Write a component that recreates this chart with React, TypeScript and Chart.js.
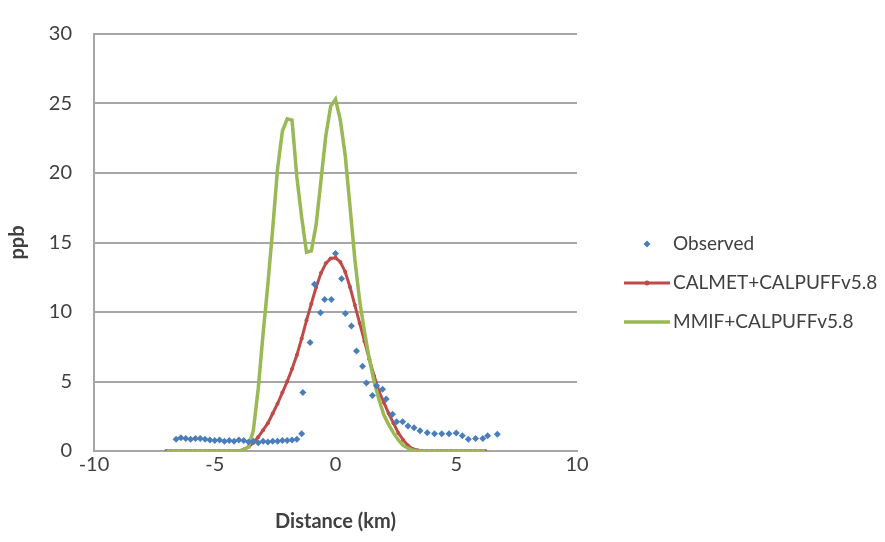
import React, { useEffect, useRef } from "react";
import { Chart, registerables } from "chart.js";

Chart.register(...registerables);

const xTicks = [-10, -5, 0, 5, 10];
const yTicks = [0, 5, 10, 15, 20, 25, 30];

const obsX = [-6.6, -6.4, -6.2, -6.0, -5.8, -5.6, -5.4, -5.2, -5.0, -4.8, -4.6, -4.4, -4.2, -4.0, -3.8, -3.6, -3.4, -3.2, -3.0, -2.8, -2.6, -2.4, -2.2, -2.0, -1.8, -1.6, -1.4, -1.35, -1.05, -0.87, -0.62, -0.45, -0.17, 0.0, 0.25, 0.41, 0.66, 0.87, 1.12, 1.28, 1.53, 1.7, 1.95, 2.1, 2.36, 2.53, 2.78, 3.0, 3.25, 3.5, 3.8, 4.1, 4.4, 4.7, 5.0, 5.25, 5.5, 5.8, 6.1, 6.3, 6.7];
const obsY = [0.85, 0.95, 0.9, 0.85, 0.9, 0.9, 0.85, 0.8, 0.75, 0.8, 0.7, 0.75, 0.7, 0.8, 0.75, 0.65, 0.7, 0.6, 0.7, 0.65, 0.7, 0.7, 0.75, 0.75, 0.8, 0.85, 1.25, 4.2, 7.8, 12.0, 9.95, 10.9, 10.9, 14.2, 12.4, 9.9, 9.0, 7.2, 6.1, 4.9, 4.0, 4.7, 4.45, 3.75, 2.65, 2.1, 2.1, 1.8, 1.67, 1.46, 1.32, 1.25, 1.25, 1.25, 1.3, 1.1, 0.85, 0.9, 0.9, 1.1, 1.2];

const modelX = [-7.0, -6.8, -6.6, -6.4, -6.2, -6.0, -5.8, -5.6, -5.4, -5.2, -5.0, -4.8, -4.6, -4.4, -4.2, -4.0, -3.8, -3.6, -3.4, -3.2, -3.0, -2.8, -2.6, -2.4, -2.2, -2.0, -1.8, -1.6, -1.4, -1.2, -1.0, -0.8, -0.6, -0.4, -0.2, 0, 0.2, 0.4, 0.6, 0.8, 1.0, 1.2, 1.4, 1.6, 1.8, 2.0, 2.2, 2.4, 2.6, 2.8, 3.0, 3.2, 3.4, 3.6, 3.8, 4.0, 4.2, 4.4, 4.6, 4.8, 5.0, 5.2, 5.4, 5.6, 5.8, 6.0, 6.2];
const calmetY = [0, 0, 0, 0, 0, 0, 0, 0, 0, 0, 0, 0, 0, 0, 0, 0,
  0.1, 0.3, 0.6, 1.0, 1.5, 2.0, 2.7, 3.4, 4.2, 5.0, 5.9, 6.9, 8.1, 9.4, 10.6, 11.8, 12.8, 13.5, 13.85, 13.9, 13.6, 12.9, 11.8, 10.5, 9.2, 7.9, 6.6, 5.4, 4.3, 3.5, 2.7, 2.0, 1.3, 0.8, 0.4, 0.15, 0.05,
  0, 0, 0, 0, 0, 0, 0, 0, 0, 0, 0, 0, 0, 0];
const mmifY = [0, 0, 0, 0, 0, 0, 0, 0, 0, 0, 0, 0, 0, 0, 0, 0,
  0.1, 0.3, 1.5, 4.5, 8.4, 12.0, 16.0, 20.3, 23.0, 23.9, 23.8, 19.7, 16.8, 14.3, 14.4, 16.3, 19.5, 22.7, 24.8, 25.3, 23.8, 21.3, 17.6, 13.8, 10.8, 8.6, 6.6, 5.0, 3.7, 2.6, 1.9, 1.3, 0.8, 0.4, 0.2, 0.05, 0,
  0, 0, 0, 0, 0, 0, 0, 0, 0, 0, 0, 0, 0, 0];

const seriesLabels = ["Observed", "CALMET+CALPUFFv5.8", "MMIF+CALPUFFv5.8"];

const BLUE = "#4a7ebb";
const RED = "#be4b48";
const GREEN = "#98b954";
const FONT = "Lato";
const TEXT = "#404040";
const FS = 20;
const LEGEND_FS = 19;

const legendPlugin = {
  id: "customLegend",
  afterDraw(chart: any) {
    const ctx = chart.ctx;
    const ys = [244, 283, 322];
    const lineX0 = 624;
    const lineX1 = 670;
    ctx.save();
    chart.data.datasets.forEach((ds: any, i: number) => {
      const y = ys[i];
      const cx = (lineX0 + lineX1) / 2;
      if (i === 0) {
        ctx.fillStyle = ds.backgroundColor;
        ctx.beginPath();
        ctx.moveTo(cx, y - 3.5);
        ctx.lineTo(cx + 3.5, y);
        ctx.lineTo(cx, y + 3.5);
        ctx.lineTo(cx - 3.5, y);
        ctx.closePath();
        ctx.fill();
      } else {
        ctx.strokeStyle = ds.borderColor;
        ctx.lineWidth = ds.borderWidth;
        ctx.beginPath();
        ctx.moveTo(lineX0, y);
        ctx.lineTo(lineX1, y);
        ctx.stroke();
        if (i === 1) {
          ctx.fillStyle = ds.borderColor;
          ctx.beginPath();
          ctx.arc(cx, y, 2.5, 0, Math.PI * 2);
          ctx.fill();
        }
      }
      ctx.fillStyle = TEXT;
      ctx.font = `${LEGEND_FS}px ${FONT}`;
      ctx.textBaseline = "middle";
      ctx.textAlign = "left";
      ctx.fillText(ds.label, 673, y);
    });
    ctx.restore();
  },
};

export default function App() {
  const ref = useRef<HTMLCanvasElement | null>(null);
  useEffect(() => {
    if (!ref.current) return;
    const chart = new Chart(ref.current, {
      type: "scatter",
      data: {
        datasets: [
          {
            label: seriesLabels[0],
            data: obsX.map((x, i) => ({ x, y: obsY[i] })),
            backgroundColor: BLUE,
            borderColor: BLUE,
            pointStyle: "rectRot",
            pointRadius: 3.5,
            pointBorderWidth: 0,
            showLine: false,
            order: 0,
          },
          {
            label: seriesLabels[1],
            data: modelX.map((x, i) => ({ x, y: calmetY[i] })),
            backgroundColor: RED,
            borderColor: RED,
            borderWidth: 3,
            pointStyle: "circle",
            pointRadius: 2,
            pointBorderWidth: 0,
            showLine: true,
            tension: 0,
            order: 2,
          },
          {
            label: seriesLabels[2],
            data: modelX.map((x, i) => ({ x, y: mmifY[i] })),
            backgroundColor: GREEN,
            borderColor: GREEN,
            borderWidth: 3.5,
            pointRadius: 0,
            showLine: true,
            tension: 0,
            order: 1,
          },
        ],
      },
      options: {
        animation: false,
        responsive: false,
        maintainAspectRatio: false,
        layout: { padding: { left: 0, right: 308, top: 20, bottom: 0 } },
        plugins: {
          legend: { display: false },
          tooltip: { enabled: false },
        },
        scales: {
          x: {
            type: "linear",
            min: -10,
            max: 10,
            afterBuildTicks: (s: any) => {
              s.ticks = xTicks.map((v) => ({ value: v }));
            },
            afterFit: (s: any) => {
              s.height = 91;
            },
            grid: { display: false, drawTicks: false },
            border: { display: true, color: "#a6a6a6", width: 2 },
            ticks: {
              color: TEXT,
              font: { family: FONT, size: FS },
              padding: 2,
              maxRotation: 0,
            },
            title: {
              display: true,
              text: "Distance (km)",
              color: TEXT,
              font: { family: FONT, size: FS, weight: "bold" },
              padding: { top: 0, bottom: 8 },
            },
          },
          y: {
            type: "linear",
            min: 0,
            max: 30,
            afterBuildTicks: (s: any) => {
              s.ticks = yTicks.map((v) => ({ value: v }));
            },
            afterFit: (s: any) => {
              s.width = 94;
            },
            grid: { color: "#a6a6a6", lineWidth: 2, drawTicks: false },
            border: { display: true, color: "#a6a6a6", width: 2 },
            ticks: {
              color: TEXT,
              font: { family: FONT, size: FS },
              padding: 22,
            },
            title: {
              display: true,
              text: "ppb",
              color: TEXT,
              font: { family: FONT, size: FS, weight: "bold" },
              padding: { top: 6, bottom: 0 },
            },
          },
        },
      },
      plugins: [legendPlugin],
    });
    return () => chart.destroy();
  }, []);
  return (
    <div style={{ position: "absolute", left: 0, top: 0, width: 885, height: 542, background: "#fff" }}>
      <canvas ref={ref} width={885} height={542} style={{ width: 885, height: 542 }} />
    </div>
  );
}
